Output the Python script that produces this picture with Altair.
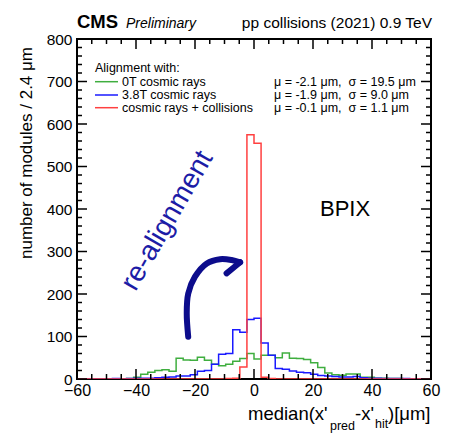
import altair as alt
import pandas as pd

FONT = "Liberation Sans"
W, H = 354, 340

# ---------------- data ----------------
x_min, x_max, bin_w = -60.0, 60.0, 2.4
y_top = 800.0
series_names = ["0T cosmic rays", "3.8T cosmic rays", "cosmic rays + collisions"]
series_colors = ["#3fae3f", "#1a1aff", "#ff4040"]
series_stats = ["\u03bc = -2.1 \u03bcm,\u00a0 \u03c3 = 19.5 \u03bcm",
                "\u03bc = -1.9 \u03bcm,\u00a0 \u03c3 = 9.0 \u03bcm",
                "\u03bc = -0.1 \u03bcm,\u00a0 \u03c3 = 1.1 \u03bcm"]

green_counts = [0, 0, 0, 0, 0, 0, 0, 1, 4, 11,
                16, 20, 22, 18, 49, 45, 44, 51, 44, 35,
                31, 35, 42, 48, 60, 47, 56, 56, 50, 61,
                49, 48, 46, 38, 27, 14, 10, 9, 12, 12,
                4, 4, 2, 2, 1, 1, 0, 0, 0, 0]
blue_counts = [0, 0, 0, 0, 0, 1, 0, 1, 2, 2,
               2, 3, 4, 5, 7, 7, 10, 18, 20, 35,
               58, 60, 116, 110, 140, 143, 85, 56, 25, 23,
               19, 16, 15, 11, 8, 7, 6, 5, 5, 6,
               3, 2, 2, 1, 1, 1, 1, 0, 0, 0]
red_counts = [0, 0, 0, 0, 0, 0, 0, 0, 0, 0,
              0, 0, 0, 0, 0, 0, 0, 0, 0, 0,
              0, 1, 2, 28, 575, 555, 4, 1, 0, 0,
              0, 0, 0, 0, 0, 0, 0, 0, 0, 0,
              0, 0, 0, 0, 0, 0, 0, 0, 0, 0]

x_major = [-60, -40, -20, 0, 20, 40, 60]
x_minor = [v for v in range(-60, 61, 5) if v % 20 != 0]
y_major = [0, 100, 200, 300, 400, 500, 600, 700, 800]
y_minor = [v for v in range(0, 801, 20) if v % 100 != 0]

# hand-drawn arrow (chart units)
arrow_x = [-22.3, -22.8, -22.3, -20.0, -16.0, -11.5, -7.6, -4.7]
arrow_y = [99.5, 154.5, 201.0, 240.7, 272.0, 282.0, 280.0, 274.6]
hook_x = [-4.7, -9.3]
hook_y = [274.6, 248.7]

# ---------------- helpers ----------------
xscale = alt.Scale(domain=[x_min, x_max], nice=False, zero=False)
yscale = alt.Scale(domain=[0, y_top], nice=False, zero=False)
XA = alt.Axis(values=x_major, ticks=False, domain=False, grid=False,
              labelFontSize=16, labelFont=FONT, labelColor="black",
              labelPadding=3, title=None, labelFlush=False, labelOverlap=False)
YA = alt.Axis(values=y_major, ticks=False, domain=False, grid=False,
              labelFontSize=15.5, labelFont=FONT, labelColor="black",
              labelPadding=5, title=None, labelFlush=False, labelOverlap=False)

# pixel -> data unit factors for tick lengths
px_x = (x_max - x_min) / W
px_y = y_top / H


def hist_df(counts):
    xs = [x_min + i * bin_w for i in range(len(counts))] + [x_max]
    ys = list(counts) + [counts[-1]]
    return pd.DataFrame({"x": xs, "y": ys})


def hist_layer(counts, color):
    return alt.Chart(hist_df(counts)).mark_line(
        interpolate="step-after", color=color, strokeWidth=1.5, clip=True
    ).encode(
        x=alt.X("x:Q", scale=xscale, axis=XA),
        y=alt.Y("y:Q", scale=yscale, axis=YA),
    )


def x_ticks(vals, length):
    L = length * px_y
    rows = [{"x": v, "y": 0.0, "y2": L} for v in vals] + \
           [{"x": v, "y": y_top, "y2": y_top - L} for v in vals]
    return alt.Chart(pd.DataFrame(rows)).mark_rule(color="black", strokeWidth=1.5).encode(
        x=alt.X("x:Q", scale=xscale, axis=XA),
        y=alt.Y("y:Q", scale=yscale, axis=YA),
        y2="y2:Q")


def y_ticks(vals, length):
    L = length * px_x
    rows = [{"y": v, "x": x_min, "x2": x_min + L} for v in vals] + \
           [{"y": v, "x": x_max, "x2": x_max - L} for v in vals]
    return alt.Chart(pd.DataFrame(rows)).mark_rule(color="black", strokeWidth=1.5).encode(
        x=alt.X("x:Q", scale=xscale, axis=XA),
        x2="x2:Q",
        y=alt.Y("y:Q", scale=yscale, axis=YA))


one = pd.DataFrame({"a": [0]})


def label(txt, x, y, size, align="left", baseline="alphabetic", color="black",
          weight="normal", style="normal", angle=0):
    kw = dict(align=align, baseline=baseline, fontSize=size, font=FONT,
              color=color, fontWeight=weight, fontStyle=style)
    if angle:
        kw["angle"] = angle
    return alt.Chart(one).mark_text(**kw).encode(
        x=alt.value(x), y=alt.value(y), text=alt.value(txt))


layers = []
layers.append(hist_layer(green_counts, series_colors[0]))
layers.append(hist_layer(blue_counts, series_colors[1]))
layers.append(hist_layer(red_counts, series_colors[2]))

layers.append(x_ticks(x_major, 10))
layers.append(x_ticks(x_minor, 5))
layers.append(y_ticks(y_major, 10))
layers.append(y_ticks(y_minor, 5))

# arrow
arrow_df = pd.DataFrame({"x": arrow_x, "y": arrow_y, "i": list(range(len(arrow_x)))})
hook_df = pd.DataFrame({"x": hook_x, "y": hook_y, "i": list(range(len(hook_x)))})
for df, interp in [(arrow_df, "catmull-rom"), (hook_df, "linear")]:
    layers.append(alt.Chart(df).mark_line(
        interpolate=interp, color="#0c0c8c", strokeWidth=6,
        strokeCap="round", strokeJoin="round"
    ).encode(
        x=alt.X("x:Q", scale=xscale, axis=XA),
        y=alt.Y("y:Q", scale=yscale, axis=YA),
        order=alt.Order("i:Q"),
    ))

# header
layers.append(label("CMS", 0, -11, 18.5, weight="bold"))
layers.append(label("Preliminary", 49, -11, 14, style="italic"))
layers.append(label("pp collisions (2021) 0.9 TeV", W + 1, -11, 15.5, align="right"))

# legend
layers.append(label("Alignment with:", 18, 29, 12.5, baseline="middle"))
leg_y = [42.7, 56.0, 68.7]
for name, col, stat, yy in zip(series_names, series_colors, series_stats, leg_y):
    layers.append(alt.Chart(one).mark_rule(color=col, strokeWidth=1.5).encode(
        x=alt.value(18), x2=alt.value(41), y=alt.value(yy)))
    layers.append(label(name, 45, yy, 12.5, baseline="middle"))
    layers.append(label(stat, 197, yy, 12.5, baseline="middle"))

# annotations
layers.append(label("BPIX", 243, 170, 22, baseline="middle"))
layers.append(label("re-alignment", 90.5, 181.8, 28, align="center", baseline="middle",
                    color="#1c1ca6", angle=300))

# axis titles
layers.append(label("number of modules / 2.4 \u03bcm", -50, 8, 17, align="right",
                    baseline="middle", angle=270))
layers.append(label("median(x'", 171, 381, 18.5))
layers.append(label("pred", 253, 391, 12.5))
layers.append(label("-x'", 278, 381, 18.5))
layers.append(label("hit", 298, 389, 12.5))
layers.append(label(")[\u03bcm]", 311, 381, 18.5))

chart = alt.layer(*layers).properties(
    width=W, height=H,
    padding={"left": 69, "top": 31, "right": 13, "bottom": 54},
    autosize=alt.AutoSizeParams(type="none"),
    background="white",
).configure_view(stroke="black", strokeWidth=2)

chart.save("out.html", embed_options={"renderer": "svg", "actions": False})
